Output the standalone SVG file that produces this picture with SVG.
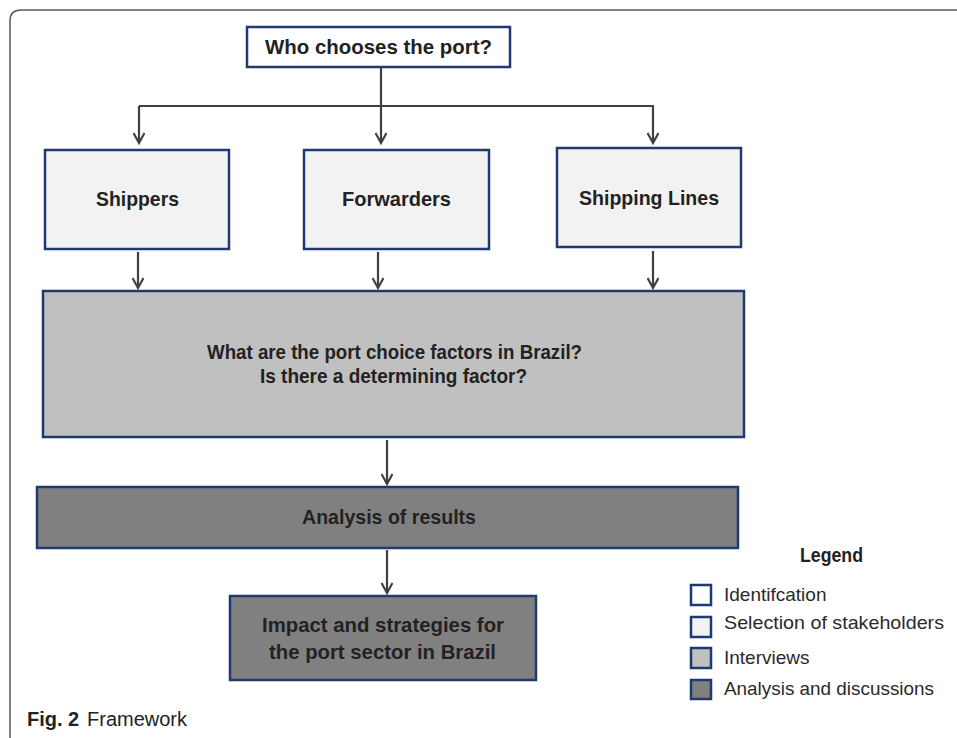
<svg xmlns="http://www.w3.org/2000/svg" width="957" height="738" viewBox="0 0 957 738">
<defs>
<marker id="arr" markerWidth="16" markerHeight="12" refX="13" refY="6" orient="auto" markerUnits="userSpaceOnUse">
<path d="M3,0.5 L13,6 L3,11.5" fill="none" stroke="#404040" stroke-width="2.2"/>
</marker>
<style>
.frame{fill:none;stroke:#5a5a5a;stroke-width:1.5}
.box{stroke:#1f3a70;stroke-width:2.5}
.lbl{font-family:"Liberation Sans",Arial,sans-serif;font-weight:bold;font-size:20.5px;fill:#222;text-anchor:middle}
.leg{font-family:"Liberation Sans",Arial,sans-serif;font-size:19px;fill:#2a2a2a}
.con{fill:none;stroke:#404040;stroke-width:2.2}
</style>
</defs>
<rect width="957" height="738" fill="#fff"/>
<path class="frame" d="M10,738 V21 Q10,10 21,10 H957"/>

<g id="connectors">
<path class="con" d="M381,68 V106"/>
<path class="con" d="M139,106 H653 V143" marker-end="url(#arr)"/>
<path class="con" d="M139,106 V143" marker-end="url(#arr)"/>
<path class="con" d="M381,106 V143" marker-end="url(#arr)"/>
<path class="con" d="M138,252 V288" marker-end="url(#arr)"/>
<path class="con" d="M378,252 V288" marker-end="url(#arr)"/>
<path class="con" d="M653,251 V288" marker-end="url(#arr)"/>
<path class="con" d="M387,440 V484" marker-end="url(#arr)"/>
<path class="con" d="M387,550 V593" marker-end="url(#arr)"/>
</g>

<g id="who">
<rect class="box" x="247" y="27" width="263" height="40" fill="#fff"/>
<text class="lbl" x="378.5" y="54" textLength="227" lengthAdjust="spacingAndGlyphs">Who chooses the port?</text>
</g>
<g id="shippers">
<rect class="box" x="45" y="150" width="184" height="99" fill="#f2f2f2"/>
<text class="lbl" x="137.5" y="206" textLength="83" lengthAdjust="spacingAndGlyphs">Shippers</text>
</g>
<g id="forwarders">
<rect class="box" x="304" y="150" width="185" height="99" fill="#f2f2f2"/>
<text class="lbl" x="396.5" y="206" textLength="109" lengthAdjust="spacingAndGlyphs">Forwarders</text>
</g>
<g id="shipping-lines">
<rect class="box" x="557" y="148" width="184" height="99" fill="#f2f2f2"/>
<text class="lbl" x="649" y="205" textLength="140" lengthAdjust="spacingAndGlyphs">Shipping Lines</text>
</g>
<g id="factors">
<rect class="box" x="43" y="291" width="701" height="146" fill="#c0c0c0"/>
<text class="lbl" x="394.5" y="359" textLength="375" lengthAdjust="spacingAndGlyphs">What are the port choice factors in Brazil?</text>
<text class="lbl" x="393.5" y="383" textLength="267" lengthAdjust="spacingAndGlyphs">Is there a determining factor?</text>
</g>
<g id="analysis">
<rect class="box" x="37" y="487" width="701" height="61" fill="#808080"/>
<text class="lbl" x="389" y="524" textLength="174" lengthAdjust="spacingAndGlyphs">Analysis of results</text>
</g>
<g id="impact">
<rect class="box" x="230" y="596" width="306" height="84" fill="#808080"/>
<text class="lbl" x="383" y="632" textLength="242" lengthAdjust="spacingAndGlyphs">Impact and strategies for</text>
<text class="lbl" x="382.5" y="659" textLength="227" lengthAdjust="spacingAndGlyphs">the port sector in Brazil</text>
</g>

<g id="legend">
<text class="lbl" x="831.5" y="562" font-size="19" textLength="63" lengthAdjust="spacingAndGlyphs">Legend</text>
<rect class="box" x="691" y="585" width="20" height="20" fill="#fff"/>
<rect class="box" x="691" y="617" width="20" height="20" fill="#f2f2f2"/>
<rect class="box" x="691" y="648" width="20" height="20" fill="#c0c0c0"/>
<rect class="box" x="691" y="680" width="20" height="19" fill="#808080"/>
<text class="leg" x="724" y="601">Identifcation</text>
<text class="leg" x="724" y="629" textLength="220" lengthAdjust="spacingAndGlyphs">Selection of stakeholders</text>
<text class="leg" x="724" y="664">Interviews</text>
<text class="leg" x="724" y="695" textLength="210" lengthAdjust="spacingAndGlyphs">Analysis and discussions</text>
</g>

<g id="caption">
<text x="27" y="726" font-family="'Liberation Sans',Arial,sans-serif" font-size="20" fill="#222"><tspan font-weight="bold">Fig. 2</tspan><tspan x="87">Framework</tspan></text>
</g>
</svg>
